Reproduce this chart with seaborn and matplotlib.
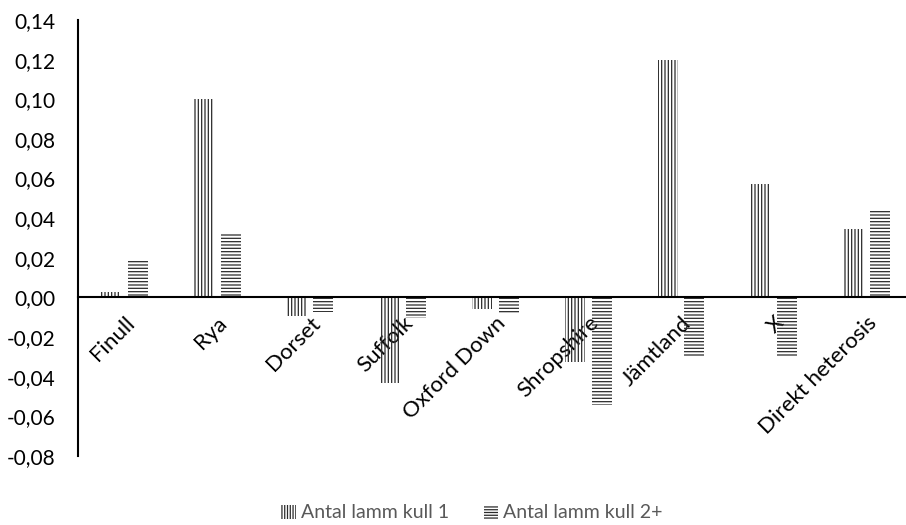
import matplotlib
matplotlib.use("Agg")
import matplotlib.pyplot as plt
import matplotlib.ticker as mticker
from matplotlib.patches import Patch
import seaborn as sns
import pandas as pd

categories = ["Finull", "Rya", "Dorset", "Suffolk", "Oxford Down",
              "Shropshire", "Jämtland", "X", "Direkt heterosis"]
kull1 = [0.003, 0.100, -0.0095, -0.043, -0.006, -0.0325, 0.120, 0.057, 0.0345]
kull2 = [0.0195, 0.032, -0.0075, -0.0105, -0.0085, -0.0545, -0.0295, -0.0295, 0.0437]
series_names = ["Antal lamm kull 1", "Antal lamm kull 2+"]
yticks = [-0.08, -0.06, -0.04, -0.02, 0.00, 0.02, 0.04, 0.06, 0.08, 0.10, 0.12, 0.14]

df = pd.DataFrame({
    "kategori": categories * 2,
    "varde": kull1 + kull2,
    "serie": [series_names[0]] * len(categories) + [series_names[1]] * len(categories),
})

sns.set_theme(style="white")
plt.rcParams["font.family"] = ["Lato", "DejaVu Sans"]
plt.rcParams["hatch.linewidth"] = 0.9

fig = plt.figure(figsize=(9.06, 5.25), dpi=100)
ax = fig.add_axes([78 / 906, 1 - 456 / 525, 835 / 906, (456 - 20) / 525])

hatches = ["|||||", "-----"]
sns.barplot(data=df, x="kategori", y="varde", hue="serie", order=categories,
            hue_order=series_names, width=0.575, gap=0.25, ax=ax,
            palette=["white", "white"], legend=False, linewidth=0)

for cont, h in zip(ax.containers, hatches):
    for bar in cont:
        bar.set_facecolor("none")
        bar.set_edgecolor("#2b2b2b")
        bar.set_linewidth(0)
        bar.set_hatch(h)

ax.set_xlim(-0.5, len(categories) - 0.5)
ax.set_ylim(-0.08, 0.14)

# zero line carries the category labels
ax.spines["top"].set_visible(False)
ax.spines["right"].set_visible(False)
ax.spines["left"].set_color("black")
ax.spines["left"].set_linewidth(1.5)
ax.spines["bottom"].set_position(("data", 0))
ax.spines["bottom"].set_color("black")
ax.spines["bottom"].set_linewidth(1.5)

ax.set_yticks(yticks)
ax.yaxis.set_major_formatter(mticker.FuncFormatter(lambda v, p: f"{v:.2f}".replace(".", ",")))
ax.tick_params(axis="y", length=0, pad=16, labelsize=15, labelcolor="black")
ax.tick_params(axis="x", length=0, pad=11, labelsize=16, labelcolor="black")
ax.set_xticks(range(len(categories)))
ax.set_xticklabels(categories, rotation=45, ha="right", va="top", rotation_mode="anchor")

ax.set_xlabel("")
ax.set_ylabel("")
ax.patch.set_alpha(0)

handles = [Patch(facecolor="none", edgecolor="#2b2b2b", linewidth=0, hatch=h, label=n)
           for h, n in zip(["||||||", "------"], series_names)]
fig.legend(handles=handles, loc="center", bbox_to_anchor=(472 / 906, 1 - 513 / 525),
           ncol=2, frameon=False, fontsize=14, labelcolor="#595959",
           handlelength=0.75, handleheight=0.75, handletextpad=0.25, columnspacing=1.8)

fig.savefig("out.png", dpi=100)
